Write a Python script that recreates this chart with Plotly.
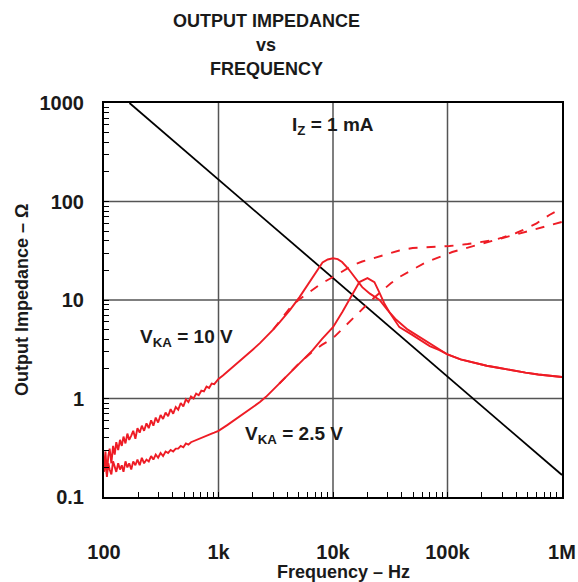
import plotly.graph_objects as go

# ---------------- data ----------------
# Reference line (black)
ref_f = [167, 1000, 10000, 100000, 1000000]
ref_z = [1000, 167, 16.7, 1.67, 0.167]

# low-frequency sample grid of the noisy measured traces (100 Hz .. 1 kHz)
low_f = [100, 103, 106, 109, 112, 116, 120, 124, 128, 133, 138, 143, 148, 154, 160, 166, 173, 180,
         188, 196, 205, 214, 224, 235, 246, 258, 270, 283, 297, 312, 328, 345, 363, 382, 402, 423,
         445, 468, 493, 519, 546, 575, 606, 638, 672, 708, 746, 786, 828, 872, 918, 967]

# VKA = 10 V, solid trace
v10_low_z = [0.20, 0.29, 0.17, 0.26, 0.31, 0.22, 0.33, 0.27, 0.36, 0.30, 0.38, 0.33, 0.41, 0.35,
             0.44, 0.38, 0.42, 0.47, 0.39, 0.50, 0.45, 0.53, 0.47, 0.56, 0.50, 0.60, 0.53, 0.64,
             0.57, 0.68, 0.62, 0.72, 0.66, 0.78, 0.70, 0.82, 0.77, 0.90, 0.83, 0.98, 0.92, 1.05,
             1.00, 1.12, 1.08, 1.20, 1.18, 1.32, 1.28, 1.42, 1.40, 1.50]
v10_hi_f = [1000, 1100, 1250, 1400, 1600, 1870, 2000, 2300, 2600, 3000, 3400, 4200, 5100, 6650,
            8100, 9000, 10000, 11000, 12000, 13500, 14900, 16500, 18000, 21000, 25500, 30000, 35700,
            45000, 57000, 70000, 85000, 100000, 130000, 170000, 220000, 285000, 370000, 480000,
            620000, 800000, 1000000]
v10_hi_z = [1.58, 1.72, 1.95, 2.20, 2.50, 2.95, 3.15, 3.65, 4.20, 5.00, 5.90, 7.90, 10.7, 17.1,
            24.0, 25.8, 26.5, 26.0, 24.3, 21.0, 18.0, 15.5, 13.5, 11.6, 10.0, 7.9, 6.3, 5.0, 4.2,
            3.6, 3.15, 2.80, 2.50, 2.30, 2.15, 2.04, 1.92, 1.83, 1.75, 1.69, 1.65]

# VKA = 10 V, dashed trace
v10d_f = [3000, 3500, 4200, 5000, 5800, 6650, 8000, 10000, 12000, 14900, 18000, 21000, 25500, 30000,
          38000, 49600, 60000, 80000, 104000, 150000, 202000, 250000, 300000, 398000, 500000, 600000,
          776000, 900000, 1000000]
v10d_z = [5.0, 6.3, 8.3, 10.0, 11.3, 12.6, 14.8, 17.1, 19.5, 22.6, 24.6, 26.0, 27.4, 29.5, 31.8,
          33.7, 34.0, 34.6, 35.3, 37.0, 38.8, 40.5, 43.0, 47.9, 54.0, 60.0, 73.0, 80.0, 86.0]

# VKA = 2.5 V, solid trace
v25_low_z = [0.18, 0.24, 0.16, 0.22, 0.19, 0.17, 0.23, 0.20, 0.18, 0.22, 0.19, 0.21, 0.18, 0.23,
             0.20, 0.22, 0.19, 0.23, 0.21, 0.24, 0.21, 0.25, 0.22, 0.24, 0.23, 0.26, 0.24, 0.27,
             0.25, 0.28, 0.26, 0.29, 0.28, 0.30, 0.29, 0.31, 0.31, 0.33, 0.32, 0.35, 0.34, 0.36,
             0.37, 0.38, 0.39, 0.40, 0.41, 0.42, 0.43, 0.44, 0.45, 0.46]
v25_hi_f = [1000, 1200, 1400, 1600, 1800, 2000, 2300, 2600, 3000, 3400, 4200, 5100, 6650, 8000,
            10000, 12100, 14500, 17000, 20000, 23000, 25500, 28000, 31000, 38000, 49600, 60000,
            70000, 85000, 100000, 130000, 170000, 220000, 285000, 370000, 480000, 620000, 800000,
            1000000]
v25_hi_z = [0.47, 0.54, 0.61, 0.68, 0.75, 0.81, 0.92, 1.04, 1.23, 1.42, 1.83, 2.30, 3.10, 4.00,
            5.30, 7.60, 11.2, 15.2, 16.7, 15.2, 11.8, 9.3, 7.55, 5.3, 4.4, 3.8, 3.4, 3.1, 2.80,
            2.50, 2.30, 2.15, 2.04, 1.92, 1.83, 1.75, 1.69, 1.65]

# VKA = 2.5 V, dashed trace
v25d_f = [3400, 4200, 5100, 6650, 8000, 10000, 13000, 16000, 19600, 23000, 27000, 32000, 38000,
          46000, 54000, 65600, 85000, 110000, 179000, 250000, 327000, 420000, 552000, 750000, 1000000]
v25d_z = [1.42, 1.83, 2.3, 3.0, 3.5, 4.1, 5.6, 7.0, 8.9, 10.6, 12.6, 14.8, 17.1, 19.5, 21.5, 24.3,
          27.4, 30.7, 36.0, 40.0, 43.6, 47.0, 51.4, 56.0, 62.0]

x_ticks = [100, 1000, 10000, 100000, 1000000]
x_labels = ["100", "1k", "10k", "100k", "1M"]
y_ticks = [0.1, 1, 10, 100, 1000]
y_labels = ["0.1", "1", "10", "100", "1000"]
title_lines = ["OUTPUT IMPEDANCE", "vs", "FREQUENCY"]

# ---------------- styling ----------------
RED = "#ee1c25"
FONT = "Liberation Sans, Arial, Helvetica, sans-serif"
TXT = "#1a1a1a"

fig = go.Figure()

# decade grid lines (drawn beneath the traces)
for v in x_ticks[1:-1]:
    fig.add_vline(x=v, line=dict(color="#555555", width=1.5), layer="below")
for v in y_ticks[1:-1]:
    fig.add_hline(y=v, line=dict(color="#555555", width=1.5), layer="below")

fig.add_trace(go.Scatter(x=ref_f, y=ref_z, mode="lines",
                         line=dict(color="black", width=1.8)))
fig.add_trace(go.Scatter(x=low_f + v10_hi_f, y=v10_low_z + v10_hi_z, mode="lines",
                         line=dict(color=RED, width=1.9)))
fig.add_trace(go.Scatter(x=v10d_f, y=v10d_z, mode="lines",
                         line=dict(color=RED, width=1.9, dash="dash")))
fig.add_trace(go.Scatter(x=low_f + v25_hi_f, y=v25_low_z + v25_hi_z, mode="lines",
                         line=dict(color=RED, width=1.9)))
fig.add_trace(go.Scatter(x=v25d_f, y=v25d_z, mode="lines",
                         line=dict(color=RED, width=1.9, dash="dash")))


def tick_arrays(decades, labels):
    vals, texts = [], []
    for i, d in enumerate(decades):
        vals.append(d)
        texts.append("<b>%s</b>" % labels[i])
        if i < len(decades) - 1:
            for m in range(2, 10):
                vals.append(d * m)
                texts.append("")
    return vals, texts


xv, xt = tick_arrays(x_ticks, x_labels)
yv, yt = tick_arrays(y_ticks, y_labels)

common_axis = dict(
    type="log", automargin=False, tickmode="array",
    showgrid=False,
    showline=True, linecolor="black", linewidth=2, mirror=True,
    ticks="inside", ticklen=5, tickcolor="black", tickwidth=1,
    tickfont=dict(family=FONT, size=20, color=TXT),
    zeroline=False,
)

fig.update_xaxes(**common_axis, range=[2, 6], tickvals=xv, ticktext=xt, ticklabelstandoff=36)
fig.update_yaxes(**common_axis, range=[-1, 3], tickvals=yv, ticktext=yt, ticklabelstandoff=14)

# plot area in pixels: x 104..562, y 103..497
def px(x):
    return (x - 104) / 458

def py(y):
    return 1 - (y - 103) / 394

def label(x, y, text, size=19, angle=0):
    fig.add_annotation(x=px(x), y=py(y), xref="paper", yref="paper", text=text,
                       showarrow=False, xanchor="center", yanchor="middle", textangle=angle,
                       font=dict(family=FONT, size=size, color=TXT))

label(333, 126, "<b>I<sub>Z</sub> = 1 mA</b>")
label(186, 338, "<b>V<sub>KA</sub> = 10 V</b>")
label(294, 435, "<b>V<sub>KA</sub> = 2.5 V</b>")

for line, yc in zip(title_lines, [21, 45, 69]):
    label(266, yc, "<b>%s</b>" % line, size=18)

label(343, 572, "<b>Frequency – Hz</b>", size=18)
label(22, 300, "<b>Output Impedance – Ω</b>", size=18, angle=-90)

fig.update_layout(
    width=578, height=582,
    margin=dict(l=104, r=16, t=103, b=85),
    paper_bgcolor="white", plot_bgcolor="white",
    showlegend=False,
)

fig.write_html("out.html", config={"displayModeBar": False},
               post_script="document.body.style.margin='0';")
